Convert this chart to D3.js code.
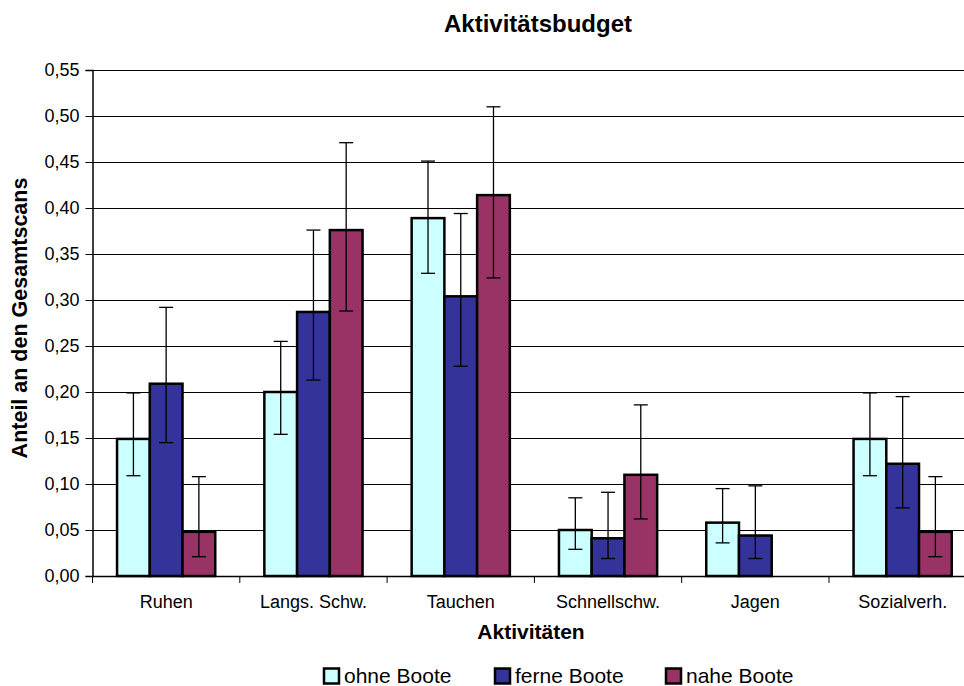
<!DOCTYPE html>
<html><head><meta charset="utf-8">
<script src="https://cdn.jsdelivr.net/npm/d3@7"></script>
<style>body{margin:0;background:#fff;overflow:hidden}svg{display:block;font-family:"Liberation Sans",Arial,sans-serif}</style>
</head><body>
<svg id="c" width="964" height="686"></svg>
<script>
const categories = ["Ruhen","Langs. Schw.","Tauchen","Schnellschw.","Jagen","Sozialverh."];
const seriesNames = ["ohne Boote","ferne Boote","nahe Boote"];
const colors = ["#CCFFFF","#333399","#993366"];
const ohneBoote = [0.149,0.200,0.389,0.050,0.058,0.149];
const ferneBoote = [0.209,0.287,0.304,0.041,0.044,0.122];
const naheBoote = [0.048,0.376,0.414,0.110,0,0.048];
const ohneLow = [0.109,0.154,0.329,0.029,0.036,0.109];
const ohneHigh = [0.199,0.255,0.451,0.085,0.095,0.199];
const ferneLow = [0.145,0.213,0.228,0.019,0.019,0.074];
const ferneHigh = [0.292,0.376,0.394,0.091,0.098,0.195];
const naheLow = [0.021,0.288,0.324,0.062,null,0.021];
const naheHigh = [0.108,0.471,0.510,0.186,null,0.108];
const yTicks = [0,0.05,0.10,0.15,0.20,0.25,0.30,0.35,0.40,0.45,0.50,0.55];

const values = [ohneBoote, ferneBoote, naheBoote];
const lows = [ohneLow, ferneLow, naheLow];
const highs = [ohneHigh, ferneHigh, naheHigh];

const svg = d3.select("#c");
const plotLeft = 92.5, catW = 147.3, plotTop = 70, plotBottom = 576;
const x = d3.scaleBand().domain(categories).range([plotLeft, plotLeft + catW*categories.length]).paddingInner(0).paddingOuter(0);
const barW = catW/4.5;
const x1 = d3.scaleBand().domain(seriesNames).range([0, barW*3]);
const y = d3.scaleLinear().domain([0,0.55]).range([plotBottom, plotTop]);
const fmt = v => d3.format(".2f")(v).replace(".", ",");

// gridlines
svg.append("g").selectAll("line").data(yTicks.filter(d=>d>0)).join("line")
  .attr("x1", plotLeft).attr("x2", plotLeft + catW*6)
  .attr("y1", d=>Math.round(y(d))+0.5).attr("y2", d=>Math.round(y(d))+0.5)
  .attr("stroke","#000").attr("stroke-width",1);

// y axis
const ya = svg.append("g").attr("transform",`translate(${plotLeft},0)`)
  .call(d3.axisLeft(y).tickValues(yTicks).tickFormat(fmt).tickSize(7).tickPadding(6));
ya.select(".domain").attr("stroke","#000").attr("stroke-width",1.5);
ya.selectAll(".tick line").attr("stroke","#000");
ya.selectAll("text").attr("font-size",18).attr("fill","#000").attr("font-family","Liberation Sans, Arial, sans-serif");

// x axis
const xa = svg.append("g").attr("transform",`translate(0,${plotBottom})`)
  .call(d3.axisBottom(x).tickSize(0).tickPadding(19));
xa.select(".domain").attr("stroke","#000").attr("stroke-width",1.5).attr("d",`M${plotLeft},0.5H${plotLeft+catW*6}`);
xa.selectAll("text").attr("font-size",18).attr("fill","#000").attr("font-family","Liberation Sans, Arial, sans-serif");
svg.append("g").selectAll("line").data(d3.range(categories.length+1)).join("line")
  .attr("x1", i=>plotLeft+i*catW).attr("x2", i=>plotLeft+i*catW)
  .attr("y1", plotBottom).attr("y2", plotBottom+7).attr("stroke","#000");

// bars
values.forEach((vals, s) => {
  svg.append("g").selectAll("rect").data(categories.map((c,i)=>({c, v: vals[i]})).filter(d=>d.v>0)).join("rect")
    .attr("x", d => x(d.c) + barW*0.75 + x1(seriesNames[s]))
    .attr("y", d => y(d.v))
    .attr("width", barW)
    .attr("height", d => y(0) - y(d.v))
    .attr("fill", colors[s]).attr("stroke","#000").attr("stroke-width",2.5);
});

// error bars
values.forEach((vals, s) => {
  const g = svg.append("g");
  categories.forEach((c,i) => {
    if (lows[s][i] == null) return;
    const cx = x(c) + barW*0.75 + x1(seriesNames[s]) + barW/2;
    const yl = y(lows[s][i]), yh = y(highs[s][i]);
    g.append("line").attr("x1",cx).attr("x2",cx).attr("y1",yl).attr("y2",yh).attr("stroke","#000").attr("stroke-width",1.3);
    [yl,yh].forEach(yy => g.append("line").attr("x1",cx-7).attr("x2",cx+7).attr("y1",yy).attr("y2",yy).attr("stroke","#000").attr("stroke-width",1.3));
  });
});

// titles
svg.append("text").attr("x",538).attr("y",32).attr("text-anchor","middle")
  .attr("font-size",24).attr("font-weight","bold").text("Aktivitätsbudget");
svg.append("text").attr("transform","translate(27,318) rotate(-90)").attr("text-anchor","middle")
  .attr("font-size",21.5).attr("font-weight","bold").text("Anteil an den Gesamtscans");
svg.append("text").attr("x",531).attr("y",639).attr("text-anchor","middle")
  .attr("font-size",21).attr("font-weight","bold").text("Aktivitäten");

// legend
const legX = [324, 495, 666];
seriesNames.forEach((n,i) => {
  svg.append("rect").attr("x",legX[i]).attr("y",668.5).attr("width",15).attr("height",15)
    .attr("fill",colors[i]).attr("stroke","#000").attr("stroke-width",2.5);
  svg.append("text").attr("x",legX[i]+20).attr("y",683).attr("font-size",21).text(n);
});
</script>
</body></html>
